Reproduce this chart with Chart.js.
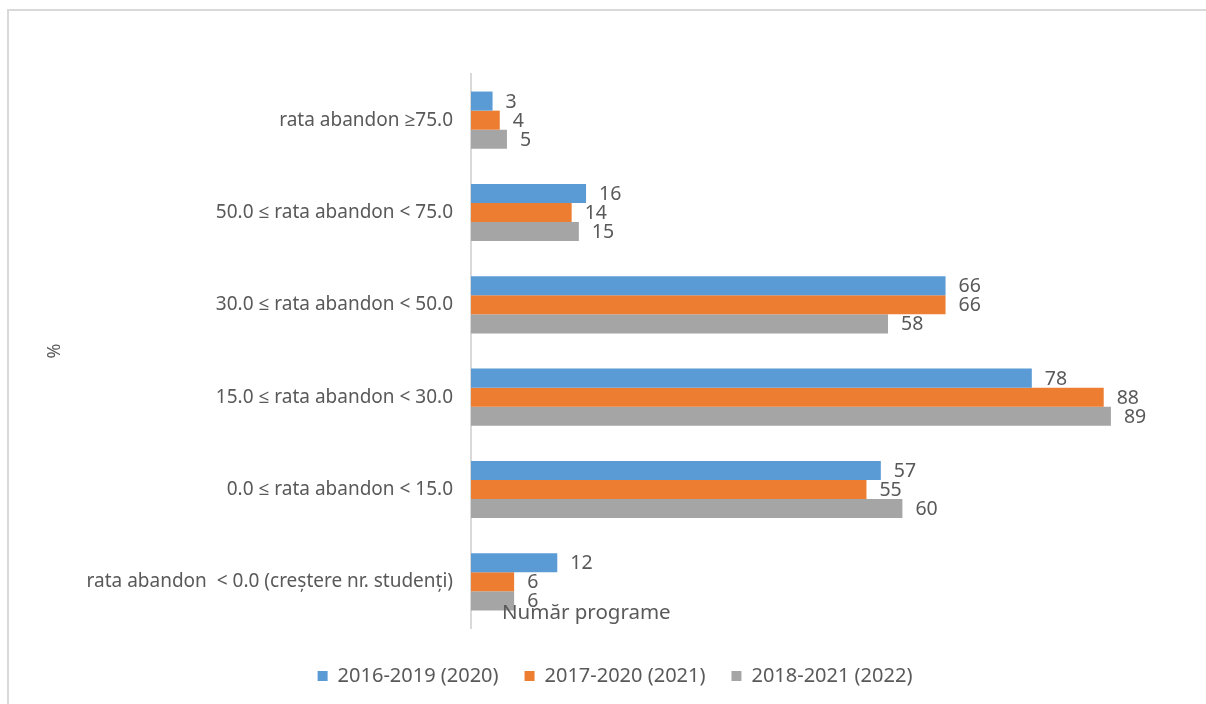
<!DOCTYPE html>
<html>
<head>
<meta charset="utf-8">
<script src="https://cdn.jsdelivr.net/npm/chart.js@4/dist/chart.umd.min.js"></script>
<style>
  html, body { margin: 0; padding: 0; background: #fff; overflow: hidden; }
  #frame { position: absolute; left: 7px; top: 9px; width: 1220px; height: 720px; border: 2px solid #d9d9d9; }
  #wrap { position: absolute; left: 0; top: 0; width: 1206px; height: 704px; }
</style>
</head>
<body>
<div id="frame"></div>
<div id="wrap"><canvas id="chart" width="1206" height="704"></canvas></div>
<script>
// categories, top to bottom
var categories = [
  'rata abandon \u226575.0',
  '50.0 \u2264 rata abandon < 75.0',
  '30.0 \u2264 rata abandon < 50.0',
  '15.0 \u2264 rata abandon < 30.0',
  '0.0 \u2264 rata abandon < 15.0',
  'rata abandon  < 0.0 (cre\u0219tere nr. studen\u021Bi)'
];

var seriesNames = ['2016-2019 (2020)', '2017-2020 (2021)', '2018-2021 (2022)'];
var s2020 = [3, 16, 66, 78, 57, 12];
var s2021 = [4, 14, 66, 88, 55, 6];
var s2022 = [5, 15, 58, 89, 60, 6];

var colors = ['#5B9BD5', '#ED7D31', '#A5A5A5'];
var textColor = '#595959';
var fontFam = '"Noto Sans", "Open Sans", sans-serif';

// value labels at bar ends
var barLabels = {
  id: 'barLabels',
  afterDatasetsDraw(chart) {
    var ctx = chart.ctx;
    ctx.save();
    ctx.font = '19.5px ' + fontFam;
    ctx.fillStyle = textColor;
    ctx.textAlign = 'left';
    ctx.textBaseline = 'middle';
    chart.data.datasets.forEach(function (ds, i) {
      var meta = chart.getDatasetMeta(i);
      meta.data.forEach(function (bar, j) {
        ctx.fillText(String(ds.data[j]), bar.x + 13, bar.y + 1);
      });
    });
    ctx.restore();
  }
};

// the value axis title sits inside the plot, near the bottom left
var xTitle = {
  id: 'xTitle',
  afterDraw(chart) {
    var ctx = chart.ctx;
    var a = chart.chartArea;
    ctx.save();
    ctx.font = '20.5px ' + fontFam;
    ctx.fillStyle = textColor;
    ctx.textAlign = 'left';
    ctx.textBaseline = 'middle';
    ctx.fillText('Num\u0103r programe', a.left + 31, a.bottom - 15);
    ctx.restore();
  }
};

var datasets = seriesNames.map(function (name, i) {
  return {
    label: name,
    data: [s2020, s2021, s2022][i],
    backgroundColor: colors[i],
    borderWidth: 0,
    barPercentage: 1,
    categoryPercentage: 0.62
  };
});

new Chart(document.getElementById('chart'), {
  type: 'bar',
  data: { labels: categories, datasets: datasets },
  options: {
    indexAxis: 'y',
    responsive: false,
    animation: false,
    layout: { padding: { left: 40, right: 16, top: 74, bottom: 8 } },
    scales: {
      x: {
        min: 0,
        max: 100,
        display: true,
        grid: { display: false },
        border: { display: false },
        ticks: { display: false },
        afterFit: function (s) { s.height = 12; }
      },
      y: {
        grid: { display: false },
        border: { display: true, color: '#d9d9d9', width: 2 },
        ticks: { color: textColor, font: { size: 19, family: fontFam }, padding: 10 },
        title: { display: true, text: '%', color: textColor, font: { size: 18, family: fontFam } },
        afterFit: function (s) { s.width = 431; }
      }
    },
    plugins: {
      legend: {
        position: 'bottom',
        labels: {
          boxWidth: 10,
          boxHeight: 10,
          padding: 26,
          color: textColor,
          font: { size: 20, family: fontFam }
        }
      },
      tooltip: { enabled: false }
    }
  },
  plugins: [barLabels, xTitle]
});
</script>
</body>
</html>
